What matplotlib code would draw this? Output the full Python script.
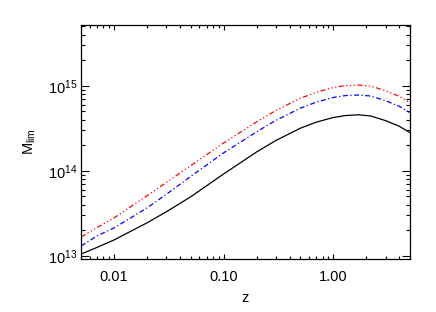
import matplotlib
matplotlib.use('Agg')
import matplotlib.pyplot as plt
import matplotlib.ticker as ticker
import numpy as np

plt.rcParams['font.family'] = ['Liberation Sans', 'DejaVu Sans']
plt.rcParams['mathtext.fontset'] = 'custom'
plt.rcParams['mathtext.rm'] = 'Liberation Sans'
plt.rcParams['mathtext.it'] = 'Liberation Sans'

# redshift grid
z = [0.005, 0.007, 0.01, 0.02, 0.03, 0.05, 0.1, 0.2, 0.3, 0.5, 0.7, 1.0, 1.3, 1.7, 2.2, 3.0, 4.0, 5.0]

# limiting mass for the three curves
m_black = [1.05e13, 1.26e13, 1.54e13, 2.45e13, 3.3e13, 4.95e13, 9.2e13, 1.67e14, 2.28e14,
           3.17e14, 3.74e14, 4.24e14, 4.48e14, 4.56e14, 4.42e14, 3.9e14, 3.35e14, 2.82e14]
m_blue = [1.31e13, 1.72e13, 2.13e13, 3.67e13, 5.3e13, 8.6e13, 1.63e14, 2.88e14, 3.93e14,
          5.45e14, 6.43e14, 7.3e14, 7.69e14, 7.8e14, 7.59e14, 6.7e14, 5.75e14, 4.85e14]
m_red = [1.67e13, 2.16e13, 2.8e13, 5.1e13, 7.3e13, 1.15e14, 2.13e14, 3.77e14, 5.14e14,
         7.13e14, 8.41e14, 9.55e14, 1.007e15, 1.02e15, 9.93e14, 8.77e14, 7.53e14, 6.34e14]

xticks = [0.01, 0.1, 1.0]
xticklabels = ['0.01', '0.10', '1.00']

fig = plt.figure(figsize=(4.36, 3.12), dpi=100)
ax = fig.add_axes([0.186, 0.170, 0.754, 0.750])

ax.plot(z, m_black, color='black', lw=0.9)
ax.plot(z, m_blue, color='blue', lw=0.9, dashes=(4, 2, 1, 2))
ax.plot(z, m_red, color='red', lw=0.9, dashes=(4, 2, 1, 2, 1, 2, 1, 2))

ax.set_xscale('log')
ax.set_yscale('log')
ax.set_xlim(0.005, 5.0)
ax.set_ylim(9.2e12, 5.2e15)

ax.xaxis.set_major_locator(ticker.FixedLocator(xticks))
ax.xaxis.set_major_formatter(ticker.FixedFormatter(xticklabels))
ax.xaxis.set_minor_locator(ticker.LogLocator(base=10, subs=np.arange(2, 10)))
ax.xaxis.set_minor_formatter(ticker.NullFormatter())
ax.yaxis.set_minor_locator(ticker.LogLocator(base=10, subs=np.arange(2, 10)))
ax.yaxis.set_minor_formatter(ticker.NullFormatter())

ax.tick_params(axis='both', which='both', direction='in', top=True, right=True,
               width=0.8, labelsize=10.5)
ax.tick_params(axis='x', which='major', length=3.6, pad=8)
ax.tick_params(axis='x', which='minor', length=2.0)
ax.tick_params(axis='y', which='major', length=5.5, pad=2.5)
ax.tick_params(axis='y', which='minor', length=3.2)

for s in ax.spines.values():
    s.set_linewidth(0.9)

ax.set_xlabel('z', fontsize=10.5, labelpad=5)
ax.set_ylabel(r'M$_{\rm lim}$', fontsize=10.5, labelpad=7)

plt.savefig('out.png', dpi=100)
